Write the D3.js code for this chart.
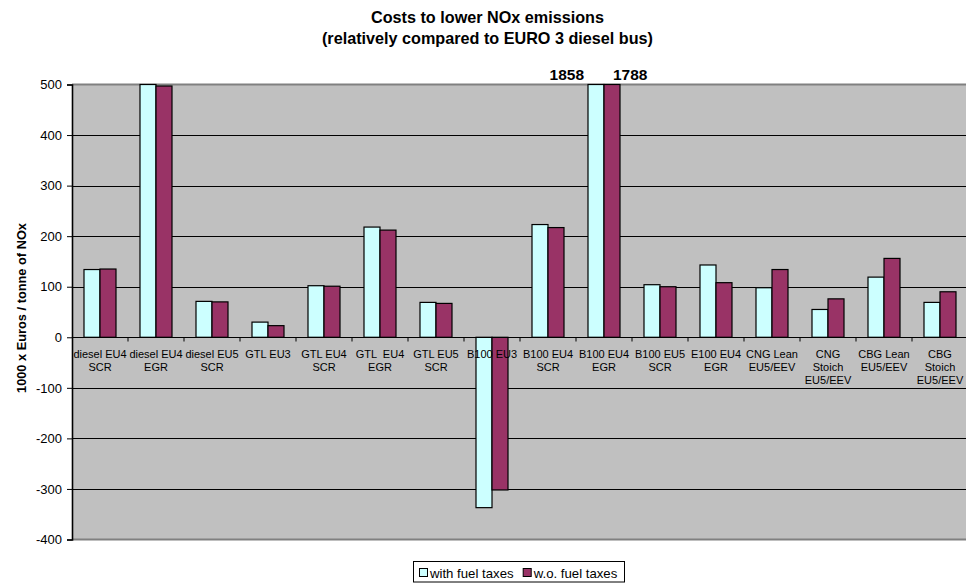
<!DOCTYPE html>
<html>
<head>
<meta charset="utf-8">
<script src="https://cdn.jsdelivr.net/npm/d3@7/dist/d3.min.js"></script>
<style>
  html, body { margin: 0; padding: 0; background: #fff; }
  svg { display: block; font-family: "Liberation Sans", Arial, sans-serif; }
</style>
</head>
<body>
<svg id="chart" width="966" height="583"></svg>
<script>
// Vehicle / technology categories (line breaks as shown on the axis)
const categories = [
  "diesel EU4\nSCR", "diesel EU4\nEGR", "diesel EU5\nSCR", "GTL EU3",
  "GTL EU4\nSCR", "GTL  EU4\nEGR", "GTL EU5\nSCR", "B100 EU3",
  "B100 EU4\nSCR", "B100 EU4\nEGR", "B100 EU5\nSCR", "E100 EU4\nEGR",
  "CNG Lean\nEU5/EEV", "CNG\nStoich\nEU5/EEV", "CBG Lean\nEU5/EEV", "CBG\nStoich\nEU5/EEV"
];
// 1000 x Euros per tonne of NOx
const withFuelTaxes = [134, 500, 71, 30, 102, 218, 69, -337, 223, 1858, 104, 143, 98, 55, 119, 69];
const withoutFuelTaxes = [135, 497, 70, 23, 101, 212, 67, -302, 217, 1788, 100, 108, 134, 76, 156, 90];
const seriesNames = ["with fuel taxes", "w.o. fuel taxes"];
const yTicks = [-400, -300, -200, -100, 0, 100, 200, 300, 400, 500];
const titleLines = ["Costs to lower NOx emissions", "(relatively compared to EURO 3 diesel bus)"];
const yTitle = "1000 x Euros / tonne of NOx";

const colors = ["#CCFFFF", "#993366"];
const svg = d3.select("#chart");

const plot = { left: 72, top: 84.5, bottom: 539.5, band: 56 };
plot.right = plot.left + plot.band * categories.length;

const x = d3.scaleBand().domain(d3.range(categories.length))
  .range([plot.left, plot.right]).padding(0);
const y = d3.scaleLinear().domain([-400, 500])
  .range([plot.bottom, plot.top]).clamp(true);
const barW = 16;
const groupOffset = (plot.band - 2 * barW) / 2;

// Plot background
svg.append("rect")
  .attr("x", plot.left).attr("y", plot.top)
  .attr("width", plot.right - plot.left).attr("height", plot.bottom - plot.top)
  .attr("fill", "#C0C0C0");

// Horizontal gridlines
svg.append("g").selectAll("line")
  .data(yTicks.filter(t => t !== 500 && t !== -400 && t !== 0))
  .join("line")
  .attr("x1", plot.left).attr("x2", plot.right)
  .attr("y1", d => Math.round(y(d)) + 0.5).attr("y2", d => Math.round(y(d)) + 0.5)
  .attr("stroke", "#000").attr("stroke-width", 1);

// Plot border (top / bottom)
svg.append("line").attr("x1", plot.left).attr("x2", plot.right)
  .attr("y1", plot.top).attr("y2", plot.top).attr("stroke", "#808080").attr("stroke-width", 2);
svg.append("line").attr("x1", plot.left).attr("x2", plot.right)
  .attr("y1", plot.bottom).attr("y2", plot.bottom).attr("stroke", "#808080").attr("stroke-width", 2);

// Bars
const series = [withFuelTaxes, withoutFuelTaxes];
series.forEach((vals, s) => {
  svg.append("g").selectAll("rect")
    .data(vals)
    .join("rect")
    .attr("x", (d, i) => x(i) + groupOffset + s * barW)
    .attr("y", d => Math.min(y(d), y(0)))
    .attr("width", barW)
    .attr("height", d => Math.abs(y(d) - y(0)))
    .attr("fill", colors[s])
    .attr("stroke", "#000")
    .attr("stroke-width", 1.2);
});

// Values beyond the axis maximum are written above the clipped bars
const overIdx = withFuelTaxes.map((d, i) => i).filter(i => withFuelTaxes[i] > 500);
overIdx.forEach(i => {
  svg.append("text")
    .attr("x", x(i) + groupOffset - 4).attr("y", plot.top - 4.5)
    .attr("text-anchor", "end")
    .attr("font-size", 15.5).attr("font-weight", "bold")
    .text(withFuelTaxes[i]);
  svg.append("text")
    .attr("x", x(i) + groupOffset + barW + 9).attr("y", plot.top - 4.5)
    .attr("text-anchor", "start")
    .attr("font-size", 15.5).attr("font-weight", "bold")
    .text(withoutFuelTaxes[i]);
});

// Category axis at zero with tick marks between groups
const x0 = Math.round(y(0)) + 0.5;
svg.append("line").attr("x1", plot.left).attr("x2", plot.right)
  .attr("y1", x0).attr("y2", x0).attr("stroke", "#000").attr("stroke-width", 1.2);
svg.append("g").selectAll("line")
  .data(d3.range(1, categories.length + 1))
  .join("line")
  .attr("x1", i => plot.left + i * plot.band).attr("x2", i => plot.left + i * plot.band)
  .attr("y1", x0).attr("y2", x0 + 4)
  .attr("stroke", "#000").attr("stroke-width", 1);

// Category labels
const catG = svg.append("g").attr("font-size", 11).attr("fill", "#000");
categories.forEach((c, i) => {
  const t = catG.append("text")
    .attr("x", x(i) + plot.band / 2)
    .attr("y", 358)
    .attr("text-anchor", "middle")
    .style("white-space", "pre");
  c.split("\n").forEach((line, k) => {
    t.append("tspan").attr("x", x(i) + plot.band / 2)
      .attr("dy", k === 0 ? 0 : 13.2).text(line);
  });
});

// Value axis
const yAxis = svg.append("g")
  .attr("transform", `translate(${plot.left},0)`)
  .call(d3.axisLeft(y).tickValues(yTicks).tickSize(5).tickPadding(5).tickFormat(d => String(d)));
yAxis.select(".domain").attr("stroke", "#000").attr("stroke-width", 1.6);
yAxis.selectAll(".tick line").attr("stroke", "#000").attr("stroke-width", 1);
yAxis.selectAll(".tick text")
  .attr("font-family", "Liberation Sans, Arial, sans-serif")
  .attr("font-size", 13).attr("fill", "#000");

// Axis title
svg.append("text")
  .attr("transform", `translate(26,308) rotate(-90)`)
  .attr("text-anchor", "middle")
  .attr("font-size", 12.8).attr("font-weight", "bold")
  .text(yTitle);

// Chart title
svg.append("text")
  .attr("text-anchor", "middle")
  .attr("font-size", 16.2).attr("font-weight", "bold")
  .selectAll("tspan").data(titleLines).join("tspan")
  .attr("x", 487.5)
  .attr("y", (d, i) => 23 + i * 20.5)
  .text(d => d);

// Legend
const lg = svg.append("g");
lg.append("rect").attr("x", 413.5).attr("y", 561.5).attr("width", 211).attr("height", 20.5)
  .attr("fill", "#fff").attr("stroke", "#000").attr("stroke-width", 1);
const legendX = [419, 522.7];
seriesNames.forEach((name, s) => {
  lg.append("rect").attr("x", legendX[s] + 0.5).attr("y", 568.5).attr("width", 8).attr("height", 8)
    .attr("fill", colors[s]).attr("stroke", "#000").attr("stroke-width", 1);
  lg.append("text").attr("x", legendX[s] + 11).attr("y", 577.5)
    .attr("font-size", 13.2).text(name);
});
</script>
</body>
</html>
